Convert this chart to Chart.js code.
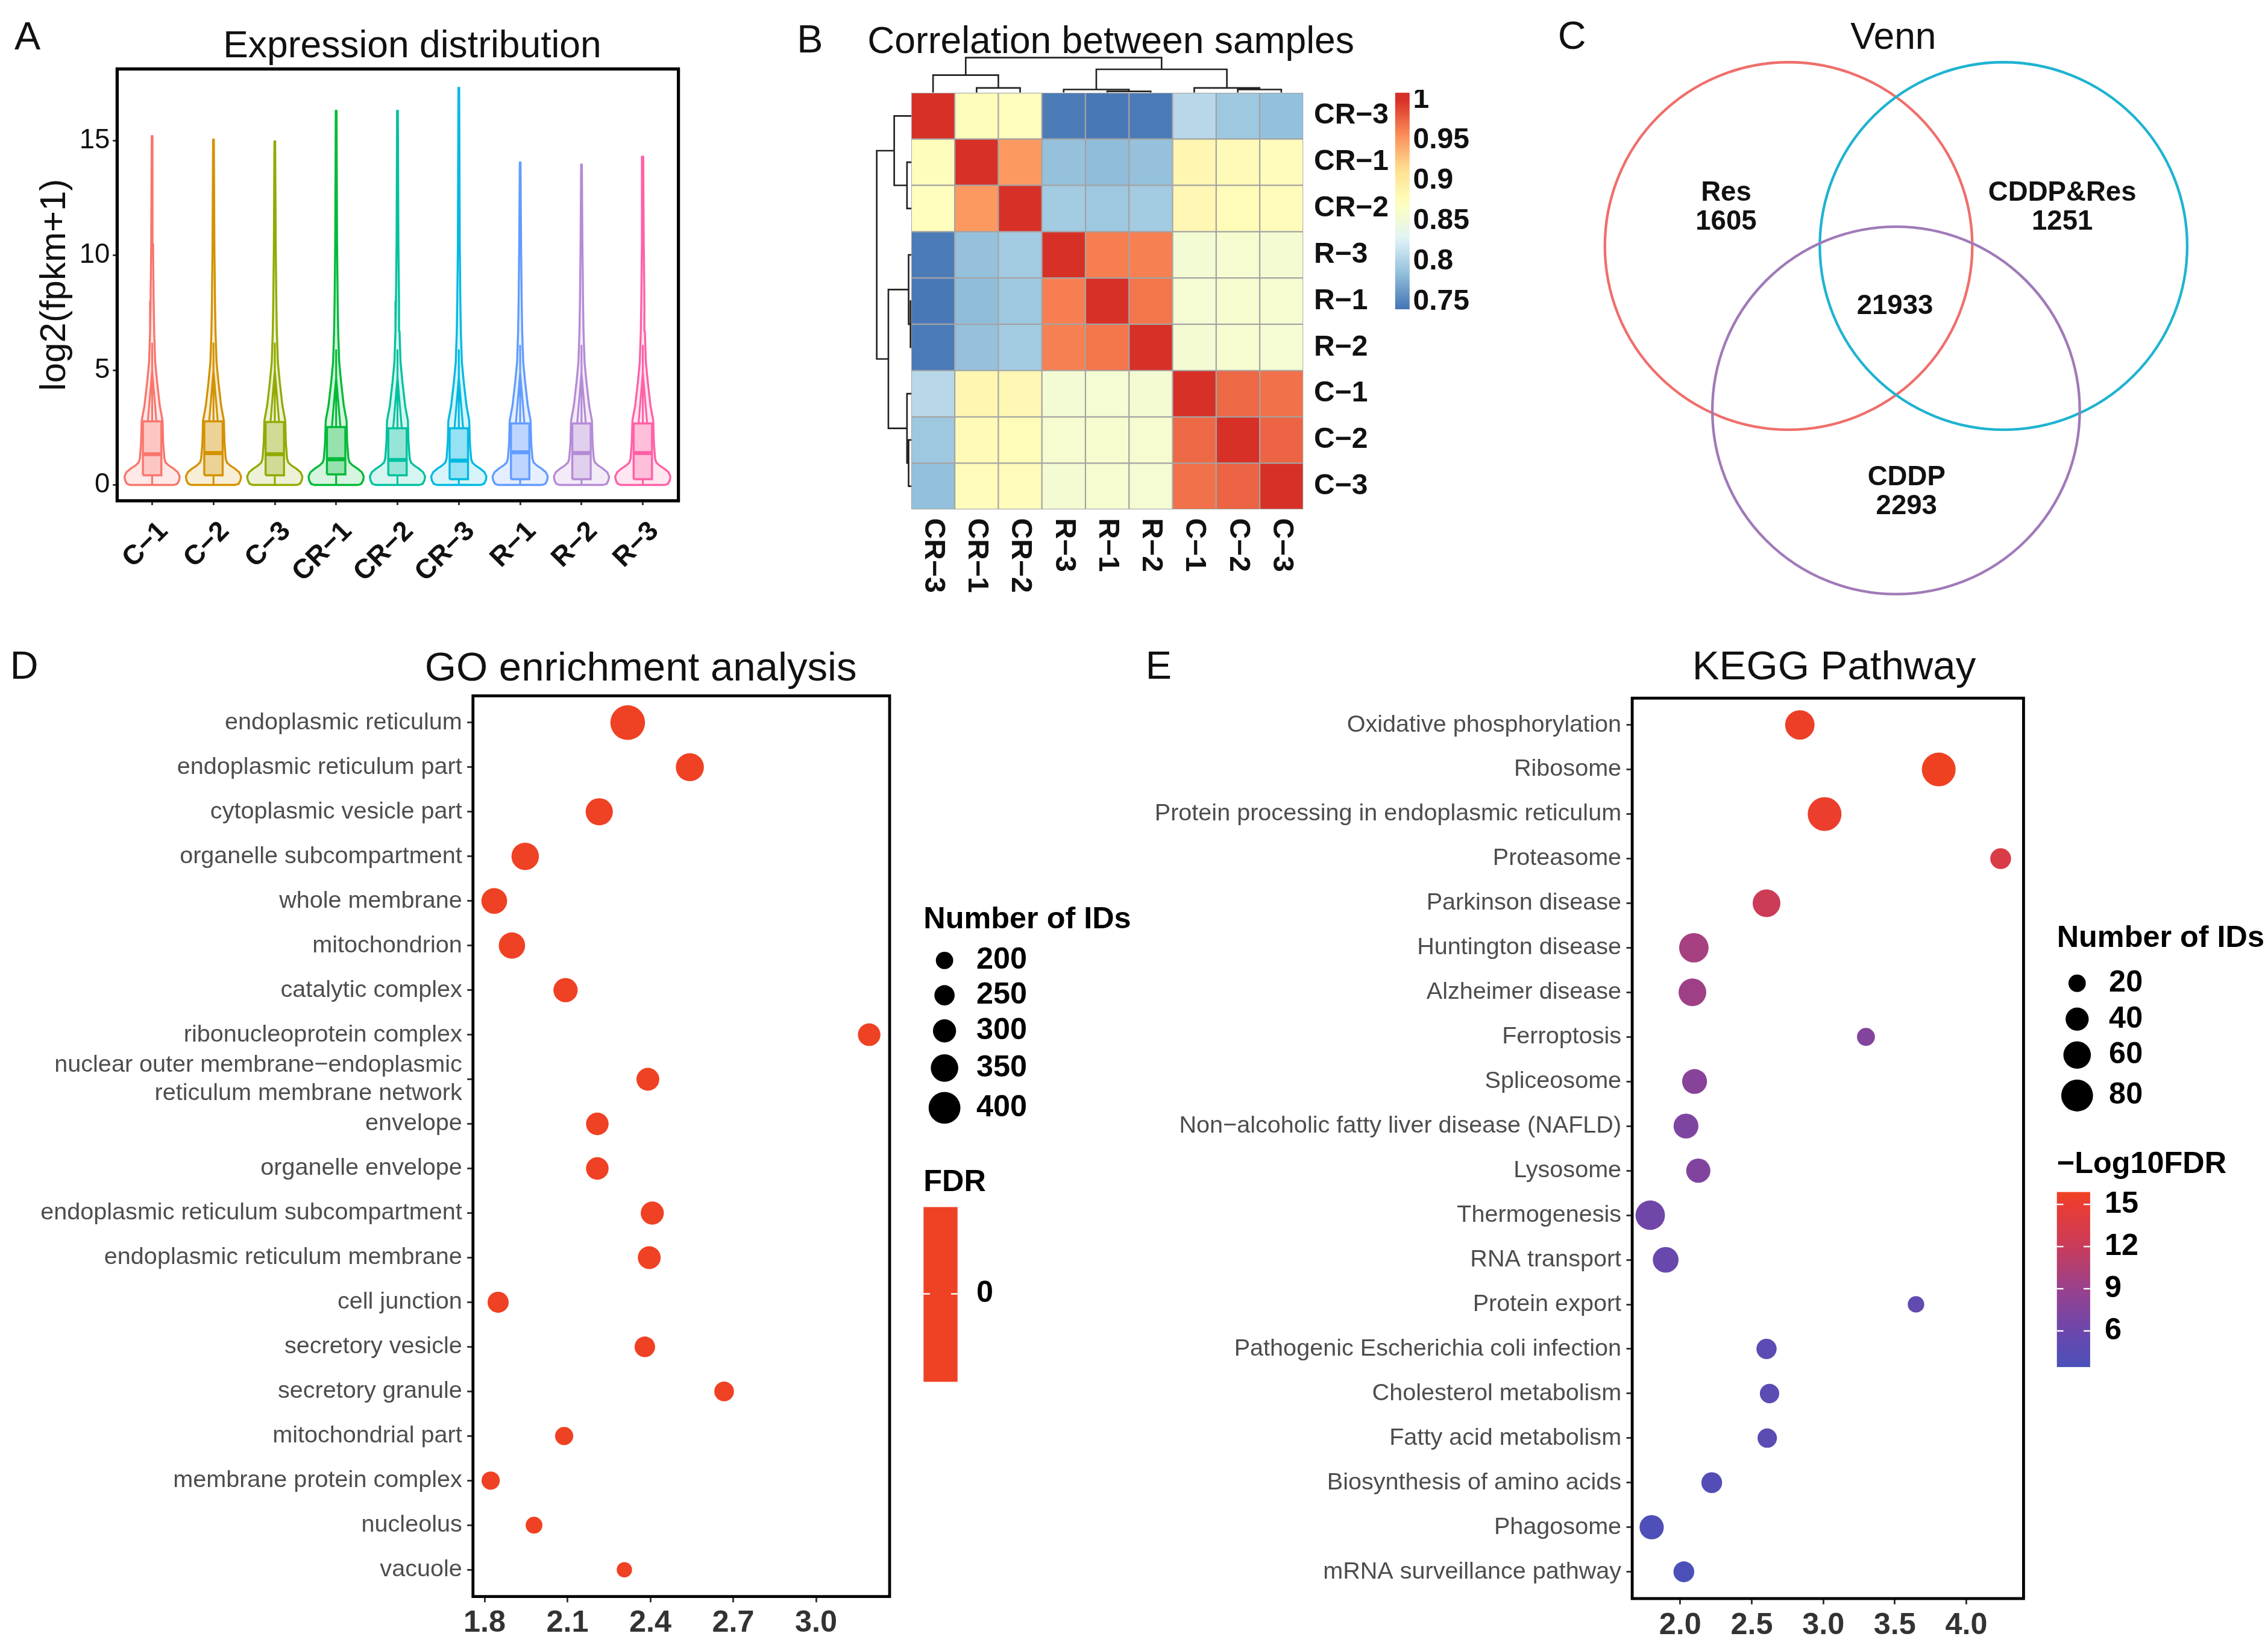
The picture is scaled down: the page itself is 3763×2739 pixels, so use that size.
<!DOCTYPE html>
<html>
<head>
<meta charset="utf-8">
<script src="https://cdn.jsdelivr.net/npm/chart.js@4.4.1/dist/chart.umd.min.js"></script>
<style>
html, body { margin: 0; padding: 0; background: #fff; }
#page { position: relative; width: 3763px; height: 2739px; overflow: hidden; background: #fff; }
canvas { position: absolute; }
.txt { position: absolute; white-space: nowrap; color: #111; line-height: 1; font-family: "Liberation Sans", Arial, sans-serif; }
</style>
</head>
<body>
<div id="page"></div>
<script>
// ---------- A: expression distribution ----------
const samples = ['C−1', 'C−2', 'C−3', 'CR−1', 'CR−2', 'CR−3', 'R−1', 'R−2', 'R−3'];
const sampleColors = ['#F8766D', '#D39200', '#93AA00', '#00BA38', '#00C19F', '#00B9E3', '#619CFF', '#B58BD6', '#FF61A6'];
const exprMax = [15.2, 15.05, 14.97, 16.3, 16.3, 17.3, 14.05, 13.96, 14.3];
const exprQ1 = [0.42, 0.42, 0.42, 0.46, 0.42, 0.25, 0.25, 0.25, 0.25];
const exprMedian = [1.34, 1.39, 1.34, 1.12, 1.09, 1.06, 1.42, 1.39, 1.39];
const exprQ3 = [2.77, 2.77, 2.74, 2.52, 2.47, 2.47, 2.68, 2.68, 2.68];
const exprWhiskerTop = [5.0, 5.0, 5.0, 4.7, 4.7, 4.7, 4.9, 4.9, 4.9];
// violin half width (category units) at expression levels
const violinLevels = [0, 0.05, 0.2, 0.37, 0.55, 0.72, 0.85, 0.98, 1.15, 1.85, 2.8, 3.45, 4.5, 5.35, 6.7, 8.0, 10.5];
const violinHalfWidth = [0.36, 0.41, 0.44, 0.45, 0.42, 0.345, 0.27, 0.22, 0.2, 0.18, 0.17, 0.125, 0.08, 0.05, 0.033, 0.025, 0.015];
const exprTicks = [0, 5, 10, 15];

// ---------- B: correlation heatmap ----------
const hmLabels = ['CR−3', 'CR−1', 'CR−2', 'R−3', 'R−1', 'R−2', 'C−1', 'C−2', 'C−3'];
const corrCR3 = [1.000, 0.874, 0.872, 0.746, 0.744, 0.745, 0.806, 0.792, 0.786];
const corrCR1 = [0.874, 1.000, 0.951, 0.787, 0.784, 0.787, 0.884, 0.878, 0.876];
const corrCR2 = [0.872, 0.951, 1.000, 0.795, 0.792, 0.795, 0.882, 0.877, 0.876];
const corrR3 = [0.746, 0.787, 0.795, 1.000, 0.964, 0.963, 0.855, 0.858, 0.856];
const corrR1 = [0.744, 0.784, 0.792, 0.964, 1.000, 0.968, 0.857, 0.860, 0.858];
const corrR2 = [0.745, 0.787, 0.795, 0.963, 0.968, 1.000, 0.856, 0.859, 0.857];
const corrC1 = [0.806, 0.884, 0.882, 0.855, 0.857, 0.856, 1.000, 0.974, 0.970];
const corrC2 = [0.792, 0.878, 0.877, 0.858, 0.860, 0.859, 0.974, 1.000, 0.976];
const corrC3 = [0.786, 0.876, 0.876, 0.856, 0.858, 0.857, 0.970, 0.976, 1.000];
const corrRows = [corrCR3, corrCR1, corrCR2, corrR3, corrR1, corrR2, corrC1, corrC2, corrC3];
// hclust style merges: negative = leaf (1-based, display order), positive = earlier merge
const dendroMerge = [[-2, -3], [-1, 1], [-5, -6], [-4, 3], [-8, -9], [-7, 5], [4, 6], [2, 7]];
const dendroHeight = [3.2, 12, 0.8, 2.1, 2.1, 3.2, 16, 24];
const hmLegendTicks = [0.75, 0.8, 0.85, 0.9, 0.95, 1];

// ---------- C: Venn ----------
const vennSets = ['Res', 'CDDP&Res', 'CDDP'];
const vennCenterX = [0, 1.17, 0.585];
const vennCenterY = [0, 0, -0.895];
const vennRadius = [1, 1, 1];
const vennRegions = ['Res', 'CDDP&Res', '', 'CDDP'];
const vennCounts = [1605, 1251, 21933, 2293];

// ---------- D: GO enrichment ----------
const goTerms = ['endoplasmic reticulum', 'endoplasmic reticulum part', 'cytoplasmic vesicle part',
  'organelle subcompartment', 'whole membrane', 'mitochondrion', 'catalytic complex',
  'ribonucleoprotein complex', ['nuclear outer membrane−endoplasmic', 'reticulum membrane network'],
  'envelope', 'organelle envelope', 'endoplasmic reticulum subcompartment', 'endoplasmic reticulum membrane',
  'cell junction', 'secretory vesicle', 'secretory granule', 'mitochondrial part',
  'membrane protein complex', 'nucleolus', 'vacuole'];
const goEnrichment = [2.318, 2.543, 2.215, 1.947, 1.835, 1.899, 2.093, 3.192, 2.391, 2.208,
  2.208, 2.407, 2.396, 1.849, 2.380, 2.667, 2.088, 1.822, 1.979, 2.306];
const goCount = [433, 357, 347, 350, 330, 337, 313, 290, 295, 290, 290, 300, 295, 265, 255, 240, 215, 215, 190, 165];
const goTicks = [1.8, 2.1, 2.4, 2.7, 3.0];
const goSizeLegend = [200, 250, 300, 350, 400];

// ---------- E: KEGG ----------
const keggTerms = ['Oxidative phosphorylation', 'Ribosome', 'Protein processing in endoplasmic reticulum',
  'Proteasome', 'Parkinson disease', 'Huntington disease', 'Alzheimer disease', 'Ferroptosis',
  'Spliceosome', 'Non−alcoholic fatty liver disease (NAFLD)', 'Lysosome', 'Thermogenesis',
  'RNA transport', 'Protein export', 'Pathogenic Escherichia coli infection', 'Cholesterol metabolism',
  'Fatty acid metabolism', 'Biosynthesis of amino acids', 'Phagosome', 'mRNA surveillance pathway'];
const keggEnrichment = [2.836, 3.807, 3.009, 4.24, 2.603, 2.095, 2.085, 3.298, 2.1, 2.04,
  2.126, 1.79, 1.898, 3.648, 2.603, 2.624, 2.608, 2.22, 1.80, 2.025];
const keggCount = [69, 89, 89, 32, 61, 69, 61, 22, 48, 48, 45, 69, 52, 17, 30, 27, 27, 32, 45, 32];
const keggLog10FDR = [15.5, 15.8, 15.3, 13.5, 12.3, 9.8, 9.4, 7.5, 7.8, 7.2, 7.4, 6.3, 5.8, 5.2, 4.8, 4.6, 4.6, 4.2, 3.7, 3.5];
const keggTicks = [2.0, 2.5, 3.0, 3.5, 4.0];
const keggSizeLegend = [20, 40, 60, 80];
const keggFdrTicks = [6, 9, 12, 15];

// ---------- styles ----------
const S = 3763 / 1568;
const FONT = '"Liberation Sans", Arial, sans-serif';
const hmPalette = ['#4575B4', '#91BFDB', '#E0F3F8', '#FFFFBF', '#FEE090', '#FC8D59', '#D73027'];
const hmMin = 0.742, hmMax = 1.0;
const hmStops = hmPalette.map((c, i) => [hmMin + (hmMax - hmMin) * i / 6, c]);
const fdrStops = [[3.43, '#4A50B9'], [6, '#6C47AC'], [9, '#99418D'], [12, '#C93C5B'], [15, '#EA3C33'], [15.9, '#F0421F']];
const goSizeStops = [[200, 6], [250, 7], [300, 8], [350, 9.5], [400, 11]];
const keggSizeStops = [[20, 6], [40, 8], [60, 9.5], [80, 11]];
const vennColors = ['#EF6F6C', '#1FB3D1', '#A07AB8'];
const goColor = '#EF4123';

Chart.defaults.font.family = FONT;
Chart.defaults.animation = false;
Chart.defaults.layout.autoPadding = false;
Chart.defaults.plugins.legend.display = false;
Chart.defaults.plugins.tooltip.enabled = false;

const page = document.getElementById('page');

function addCanvas(left, top, w, h) {
  const c = document.createElement('canvas');
  c.width = Math.round(w * S);
  c.height = Math.round(h * S);
  c.style.left = (left * S) + 'px';
  c.style.top = (top * S) + 'px';
  c.style.width = c.width + 'px';
  c.style.height = c.height + 'px';
  page.appendChild(c);
  return c;
}

function addText(str, x, y, size, align, weight) {
  const d = document.createElement('div');
  d.className = 'txt';
  d.textContent = str;
  d.style.fontSize = (size * S) + 'px';
  d.style.fontWeight = weight || 'normal';
  d.style.left = (x * S) + 'px';
  d.style.top = (y * S) + 'px';
  d.style.transform = align === 'center' ? 'translate(-50%,-50%)' : 'translate(0,-50%)';
  page.appendChild(d);
}

function fontStr(size, weight) {
  return (weight || 'normal') + ' ' + (size * S) + 'px ' + FONT;
}

function hexToRgb(h) {
  const n = parseInt(h.slice(1), 16);
  return [(n >> 16) & 255, (n >> 8) & 255, n & 255];
}

function rgba(h, a) {
  const c = hexToRgb(h);
  return 'rgba(' + c[0] + ',' + c[1] + ',' + c[2] + ',' + a + ')';
}

function rampColor(stops, v) {
  if (v <= stops[0][0]) return stops[0][1];
  for (let i = 1; i < stops.length; i++) {
    if (v <= stops[i][0]) {
      const t = (v - stops[i - 1][0]) / (stops[i][0] - stops[i - 1][0]);
      const a = hexToRgb(stops[i - 1][1]), b = hexToRgb(stops[i][1]);
      return 'rgb(' + Math.round(a[0] + (b[0] - a[0]) * t) + ',' + Math.round(a[1] + (b[1] - a[1]) * t) + ',' + Math.round(a[2] + (b[2] - a[2]) * t) + ')';
    }
  }
  return stops[stops.length - 1][1];
}

function rampRadius(stops, v) {
  let i = 1;
  while (i < stops.length - 1 && v > stops[i][0]) i++;
  const a = stops[i - 1], b = stops[i];
  return a[1] + (v - a[0]) * (b[1] - a[1]) / (b[0] - a[0]);
}

function tickGrid(len) {
  return { display: true, drawOnChartArea: false, drawTicks: true, tickLength: len * S, tickColor: '#333', tickWidth: 1.2 * S, lineWidth: 1.2 * S };
}

// fix an axis' thickness and drop the label overflow padding so the plot box lands where we want it
function fixSize(prop, size) {
  return s => {
    s[prop] = size * S;
    s.paddingTop = 0; s.paddingBottom = 0; s.paddingLeft = 0; s.paddingRight = 0;
  };
}

const framePlugin = {
  id: 'frame',
  afterDraw(chart, args, opts) {
    if (!opts || !opts.lineWidth) return;
    const a = chart.chartArea, ctx = chart.ctx;
    ctx.save();
    ctx.strokeStyle = opts.color || '#000';
    ctx.lineWidth = opts.lineWidth;
    ctx.strokeRect(a.left, a.top, a.right - a.left, a.bottom - a.top);
    ctx.restore();
  }
};

// ================= panel letters and titles =================
addText('A', 10, 25, 27, 'left');
addText('Expression distribution', 285, 31, 26, 'center');
addText('B', 551, 27, 27, 'left');
addText('Correlation between samples', 768, 28, 26, 'center');
addText('C', 1077, 24.5, 27, 'left');
addText('Venn', 1309, 25, 26, 'center');
addText('D', 7, 460, 27, 'left');
addText('GO enrichment analysis', 443, 461, 28, 'center');
addText('E', 792, 460, 27, 'left');
addText('KEGG Pathway', 1268, 460, 28, 'center');

// ================= A: violins =================
const aDatasets = [];
samples.forEach((name, i) => {
  const c = i + 1, col = sampleColors[i];
  const right = [], left = [];
  for (let k = 0; k < violinLevels.length && violinLevels[k] < exprMax[i]; k++) {
    right.push({ x: c + violinHalfWidth[k], y: violinLevels[k] });
    left.unshift({ x: c - violinHalfWidth[k], y: violinLevels[k] });
  }
  const outline = right.concat([{ x: c + 0.006, y: exprMax[i] }, { x: c - 0.006, y: exprMax[i] }], left, [right[0]]);
  aDatasets.push({ data: outline, showLine: true, fill: 'shape', backgroundColor: rgba(col, 0.16),
    borderColor: col, borderWidth: 1.4 * S, borderJoinStyle: 'round', pointRadius: 0, order: 3 });
  const bw = 0.15, q1 = exprQ1[i], q3 = exprQ3[i];
  aDatasets.push({ data: [{ x: c - bw, y: q1 }, { x: c + bw, y: q1 }, { x: c + bw, y: q3 }, { x: c - bw, y: q3 }, { x: c - bw, y: q1 }],
    showLine: true, fill: 'shape', backgroundColor: rgba(col, 0.3), borderColor: col, borderWidth: 1.4 * S, pointRadius: 0, order: 2 });
  aDatasets.push({ data: [{ x: c, y: q1 }, { x: c, y: 0 }, { x: c, y: null }, { x: c - 0.07, y: q3 }, { x: c, y: exprWhiskerTop[i] }, { x: c + 0.07, y: q3 }, { x: c, y: null }, { x: c, y: q3 }, { x: c, y: exprWhiskerTop[i] + 1.2 }],
    showLine: true, fill: false, borderColor: col, borderWidth: 1.3 * S, pointRadius: 0, order: 1 });
  aDatasets.push({ data: [{ x: c - bw, y: exprMedian[i] }, { x: c + bw, y: exprMedian[i] }],
    showLine: true, fill: false, borderColor: col, borderWidth: 2.8 * S, pointRadius: 0, order: 0 });
});

new Chart(addCanvas(0, 44, 480, 375), {
  type: 'scatter',
  data: { datasets: aDatasets },
  plugins: [framePlugin],
  options: {
    responsive: false, devicePixelRatio: 1, events: [],
    layout: { padding: { top: 3.5 * S, right: 11 * S, left: 0, bottom: 0 } },
    plugins: { frame: { lineWidth: 2.2 * S } },
    scales: {
      x: {
        type: 'linear', min: 0.43, max: 9.58,
        afterBuildTicks: s => { s.ticks = samples.map((_, i) => ({ value: i + 1 })); },
        ticks: { callback: v => samples[Math.round(v) - 1], minRotation: 45, maxRotation: 45, autoSkip: false,
          font: { size: 19 * S, weight: 'bold' }, color: '#111', padding: 7 * S, labelOffset: 8 * S },
        grid: tickGrid(3), border: { display: false },
        afterFit: fixSize('height', 73)
      },
      y: {
        type: 'linear', min: -0.69, max: 18.12,
        afterBuildTicks: s => { s.ticks = exprTicks.map(v => ({ value: v })); },
        ticks: { font: { size: 19 * S }, color: '#111', padding: 2 * S },
        grid: tickGrid(3), border: { display: false },
        title: { display: true, text: 'log2(fpkm+1)', font: { size: 25 * S }, color: '#111', padding: { top: 23 * S, bottom: 0 } },
        afterFit: fixSize('width', 81)
      }
    }
  }
});

// ================= B: dendrograms =================
function dendroPoints() {
  const pos = [], hgt = [], pts = [];
  const node = id => id < 0 ? { p: -id - 1 + 0.5, h: 0 } : { p: pos[id - 1], h: hgt[id - 1] };
  dendroMerge.forEach((m, k) => {
    const a = node(m[0]), b = node(m[1]), h = dendroHeight[k];
    pts.push([a.p, a.h], [a.p, h], [b.p, h], [b.p, b.h], null);
    pos.push((a.p + b.p) / 2);
    hgt.push(h);
  });
  return pts;
}
const dPts = dendroPoints();
const dendroStyle = { showLine: true, fill: false, borderColor: '#222', borderWidth: 1.1 * S, pointRadius: 0, clip: false, spanGaps: false };

new Chart(addCanvas(625, 36, 281, 29), {
  type: 'scatter',
  data: { datasets: [Object.assign({ data: dPts.map(p => p ? { x: p[0], y: p[1] } : { x: 0, y: null }) }, dendroStyle)] },
  options: {
    responsive: false, devicePixelRatio: 1, events: [],
    layout: { padding: 0 },
    scales: {
      x: { type: 'linear', display: false, min: -5 / 30.111, max: 9 + 5 / 30.111 },
      y: { type: 'linear', display: false, min: -1, max: 28 }
    }
  }
});

new Chart(addCanvas(602, 59, 29, 298), {
  type: 'scatter',
  data: { datasets: [Object.assign({ data: dPts.map(p => p ? { x: p[1], y: p[0] } : { x: null, y: 0 }) }, dendroStyle)] },
  options: {
    responsive: false, devicePixelRatio: 1, events: [],
    layout: { padding: 0 },
    scales: {
      x: { type: 'linear', display: false, min: -1, max: 28, reverse: true },
      y: { type: 'linear', display: false, min: -5 / 32, max: 9 + 5 / 32, reverse: true }
    }
  }
});

// ================= B: heatmap =================
const hmOX = 628, hmOY = 62;
const hmExtras = {
  id: 'hmExtras',
  afterDraw(chart) {
    const ctx = chart.ctx, xs = chart.scales.x;
    ctx.save();
    // column labels (read top to bottom)
    ctx.font = fontStr(20, 'bold');
    ctx.fillStyle = '#111';
    ctx.textAlign = 'left';
    ctx.textBaseline = 'middle';
    const y0 = chart.chartArea.bottom + 6 * S;
    hmLabels.forEach((l, i) => {
      ctx.save();
      ctx.translate(xs.getPixelForValue(i), y0);
      ctx.rotate(Math.PI / 2);
      ctx.fillText(l, 0, 0);
      ctx.restore();
    });
    // colour bar
    const top = 64, bot = 213.7, vTop = 1.009, vBot = 0.741;
    const yFor = v => (top + (vTop - v) / (vTop - vBot) * (bot - top) - hmOY) * S;
    const g = ctx.createLinearGradient(0, yFor(vBot), 0, yFor(vTop));
    for (let k = 0; k <= 30; k++) {
      g.addColorStop(k / 30, rampColor(hmStops, vBot + (vTop - vBot) * k / 30));
    }
    ctx.fillStyle = g;
    ctx.fillRect((964.6 - hmOX) * S, (top - hmOY) * S, 10 * S, (bot - top) * S);
    ctx.fillStyle = '#111';
    ctx.font = fontStr(20, 'bold');
    hmLegendTicks.forEach(v => ctx.fillText(String(v), (977 - hmOX) * S, yFor(v)));
    ctx.restore();
  }
};

new Chart(addCanvas(hmOX, hmOY, 402, 357), {
  type: 'bar',
  data: {
    labels: hmLabels,
    datasets: corrRows.map((row, r) => ({
      data: hmLabels.map(() => [r, r + 1]),
      backgroundColor: row.map(v => rampColor(hmStops, v)),
      borderColor: '#A3A3A3', borderWidth: 0.6 * S, borderSkipped: false,
      barPercentage: 1, categoryPercentage: 1, grouped: false
    }))
  },
  plugins: [hmExtras],
  options: {
    responsive: false, devicePixelRatio: 1, events: [],
    layout: { padding: { left: 2 * S, top: 2 * S, bottom: 67 * S, right: 0 } },
    scales: {
      x: { display: false, afterFit: s => { s.paddingLeft = 0; s.paddingRight = 0; } },
      y: {
        type: 'linear', position: 'right', min: 0, max: 9, reverse: true,
        afterBuildTicks: s => { s.ticks = hmLabels.map((_, i) => ({ value: i + 0.5 })); },
        ticks: { callback: v => hmLabels[Math.floor(v)], font: { size: 20 * S, weight: 'bold' }, color: '#111', padding: 4 * S, crossAlign: 'near' },
        grid: { display: false }, border: { display: false },
        afterFit: fixSize('width', 129)
      }
    }
  }
});

// ================= C: Venn =================
const vennLabelX = [-0.34, 1.49, 0.579, 0.642];
const vennLabelY = [0.21, 0.21, -0.328, -1.339];
const vennText = {
  id: 'vennText',
  afterDraw(chart) {
    const ctx = chart.ctx, xs = chart.scales.x, ys = chart.scales.y;
    ctx.save();
    ctx.font = fontStr(19, 'bold');
    ctx.fillStyle = '#111';
    ctx.textAlign = 'center';
    ctx.textBaseline = 'middle';
    vennCounts.forEach((n, i) => {
      const px = xs.getPixelForValue(vennLabelX[i]), py = ys.getPixelForValue(vennLabelY[i]);
      if (vennRegions[i]) {
        ctx.fillText(vennRegions[i], px, py - 10 * S);
        ctx.fillText(String(n), px, py + 10 * S);
      } else {
        ctx.fillText(String(n), px, py);
      }
    });
    ctx.restore();
  }
};

new Chart(addCanvas(1090, 40, 450, 380), {
  type: 'scatter',
  data: {
    datasets: [{
      data: vennSets.map((s, i) => ({ x: vennCenterX[i], y: vennCenterY[i] })),
      pointRadius: ctx => {
        const xs = ctx.chart.scales.x;
        return Math.abs(xs.getPixelForValue(vennRadius[ctx.dataIndex]) - xs.getPixelForValue(0));
      },
      pointBackgroundColor: 'rgba(0,0,0,0)',
      pointBorderColor: vennColors,
      pointBorderWidth: 1.8 * S,
      clip: false
    }]
  },
  plugins: [vennText],
  options: {
    responsive: false, devicePixelRatio: 1, events: [],
    layout: { padding: 0 },
    scales: {
      x: { type: 'linear', display: false, min: -1.1535, max: 2.39 },
      y: { type: 'linear', display: false, min: -1.968, max: 1.0236 }
    }
  }
});

// ================= D / E: bubble plots =================
function dotAxes(xMin, xMax, xTicks, yLabels, yWidth, xHeight) {
  return {
    x: {
      type: 'linear', min: xMin, max: xMax,
      afterBuildTicks: s => { s.ticks = xTicks.map(v => ({ value: v })); },
      ticks: { callback: v => v.toFixed(1), font: { size: 21 * S, weight: 'bold' }, color: '#333', padding: 2 * S },
      grid: tickGrid(4), border: { display: false },
      afterFit: fixSize('height', xHeight)
    },
    y: {
      type: 'linear', min: 0.4, max: 20.6, reverse: true,
      afterBuildTicks: s => { s.ticks = yLabels.map((_, i) => ({ value: i + 1 })); },
      ticks: { callback: v => yLabels[Math.round(v) - 1], font: { size: 16.5 * S }, color: '#4D4D4D', padding: 3.5 * S, autoSkip: false },
      grid: tickGrid(4), border: { display: false },
      afterFit: fixSize('width', yWidth)
    }
  };
}

const dOX = 0, dOY = 440;
const goLegend = {
  id: 'goLegend',
  afterDraw(chart) {
    const ctx = chart.ctx;
    const P = (x, y) => [(x - dOX) * S, (y - dOY) * S];
    ctx.save();
    ctx.fillStyle = '#000';
    ctx.textAlign = 'left';
    ctx.textBaseline = 'middle';
    ctx.font = fontStr(21, 'bold');
    ctx.fillText('Number of IDs', ...P(638.5, 636));
    const ys = [663.9, 688, 712.6, 738.3, 765.8];
    goSizeLegend.forEach((v, i) => {
      const c = P(653, ys[i]);
      ctx.beginPath();
      ctx.arc(c[0], c[1], rampRadius(goSizeStops, v) * S, 0, Math.PI * 2);
      ctx.fill();
      ctx.fillText(String(v), ...P(675, ys[i]));
    });
    ctx.fillText('FDR', ...P(638.5, 817.7));
    ctx.fillStyle = goColor;
    const a = P(638.5, 834.4);
    ctx.fillRect(a[0], a[1], 23.5 * S, 120.8 * S);
    ctx.fillStyle = '#fff';
    ctx.fillRect(a[0], (894.4 - dOY - 0.5) * S, 4.5 * S, 1 * S);
    ctx.fillRect(a[0] + 19 * S, (894.4 - dOY - 0.5) * S, 4.5 * S, 1 * S);
    ctx.fillStyle = '#000';
    ctx.fillText('0', ...P(675, 894.4));
    ctx.restore();
  }
};

new Chart(addCanvas(dOX, dOY, 790, 700), {
  type: 'scatter',
  data: {
    datasets: [{
      data: goTerms.map((t, i) => ({ x: goEnrichment[i], y: i + 1 })),
      pointRadius: ctx => rampRadius(goSizeStops, goCount[ctx.dataIndex]) * S,
      pointBackgroundColor: goColor,
      pointBorderWidth: 0
    }]
  },
  plugins: [framePlugin, goLegend],
  options: {
    responsive: false, devicePixelRatio: 1, events: [],
    layout: { padding: { top: 41 * S, right: 175 * S, left: 0, bottom: 0 } },
    plugins: { frame: { lineWidth: 2 * S } },
    scales: dotAxes(1.758, 3.266, goTicks, goTerms, 327, 36.4)
  }
});

const eOX = 790, eOY = 440;
const keggLegend = {
  id: 'keggLegend',
  afterDraw(chart) {
    const ctx = chart.ctx;
    const P = (x, y) => [(x - eOX) * S, (y - eOY) * S];
    ctx.save();
    ctx.fillStyle = '#000';
    ctx.textAlign = 'left';
    ctx.textBaseline = 'middle';
    ctx.font = fontStr(21, 'bold');
    ctx.fillText('Number of IDs', ...P(1422, 648.6));
    const ys = [679.7, 704.5, 729.3, 757.3];
    keggSizeLegend.forEach((v, i) => {
      const c = P(1436, ys[i]);
      ctx.beginPath();
      ctx.arc(c[0], c[1], rampRadius(keggSizeStops, v) * S, 0, Math.PI * 2);
      ctx.fill();
      ctx.fillText(String(v), ...P(1458, ys[i]));
    });
    ctx.fillText('−Log10FDR', ...P(1422, 805));
    const top = 824, bot = 945, vTop = 15.88, vBot = 3.43;
    const yFor = v => (top + (vTop - v) / (vTop - vBot) * (bot - top) - eOY) * S;
    const g = ctx.createLinearGradient(0, yFor(vBot), 0, yFor(vTop));
    for (let k = 0; k <= 30; k++) {
      g.addColorStop(k / 30, rampColor(fdrStops, vBot + (vTop - vBot) * k / 30));
    }
    ctx.fillStyle = g;
    const a = P(1422, top);
    ctx.fillRect(a[0], a[1], 23 * S, (bot - top) * S);
    keggFdrTicks.forEach(v => {
      ctx.fillStyle = '#fff';
      ctx.fillRect(a[0], yFor(v) - 0.5 * S, 4.5 * S, 1 * S);
      ctx.fillRect(a[0] + 18.5 * S, yFor(v) - 0.5 * S, 4.5 * S, 1 * S);
      ctx.fillStyle = '#000';
      ctx.fillText(String(v), (1455 - eOX) * S, yFor(v));
    });
    ctx.restore();
  }
};

new Chart(addCanvas(eOX, eOY, 778, 700), {
  type: 'scatter',
  data: {
    datasets: [{
      data: keggTerms.map((t, i) => ({ x: keggEnrichment[i], y: i + 1 })),
      pointRadius: ctx => rampRadius(keggSizeStops, keggCount[ctx.dataIndex]) * S,
      pointBackgroundColor: ctx => rampColor(fdrStops, keggLog10FDR[ctx.dataIndex]),
      pointBorderWidth: 0
    }]
  },
  plugins: [framePlugin, keggLegend],
  options: {
    responsive: false, devicePixelRatio: 1, events: [],
    layout: { padding: { top: 42.6 * S, right: 169 * S, left: 0, bottom: 0 } },
    plugins: { frame: { lineWidth: 2 * S } },
    scales: dotAxes(1.664, 4.40, keggTicks, keggTerms, 338.4, 35)
  }
});
</script>
</body>
</html>
